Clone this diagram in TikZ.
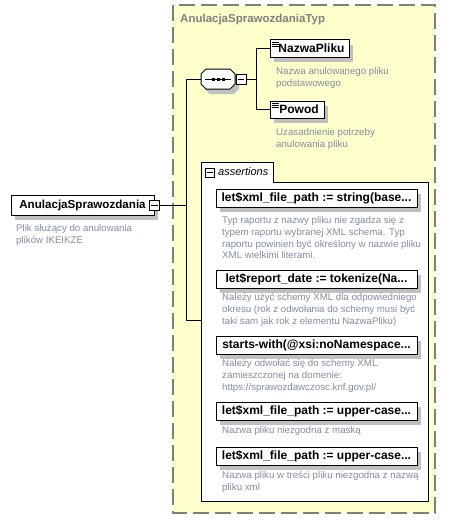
\documentclass[tikz,border=0pt]{standalone}
\usepackage{fontspec}
\setmainfont{Liberation Sans}
\usetikzlibrary{shadows}
\definecolor{outerfill}{RGB}{255,255,204}
\definecolor{outerline}{RGB}{128,128,118}
\definecolor{titlegray}{RGB}{128,128,128}
\definecolor{descgray}{RGB}{130,142,162}
\definecolor{shadowgray}{RGB}{192,192,192}
\begin{document}
\begin{tikzpicture}[x=1pt,y=-1pt,
  elbox/.style={draw=black, line width=1pt, fill=white, inner sep=0pt,
    font=\fontsize{12}{14}\selectfont\bfseries,
    general shadow={fill=shadowgray, shadow xshift=4pt, shadow yshift=-5pt}},
  pmbox/.style={draw=black, fill=white, minimum size=10pt, inner sep=0pt, line width=0.8pt},
  desc/.style={anchor=north west, inner sep=0pt, align=left, text=descgray,
    font=\fontsize{9.7}{11.6}\selectfont},
  conn/.style={draw=black, line width=1pt},
  icon/.style={draw=black, line width=0.7pt}
]
\useasboundingbox (0,0) rectangle (453,531);
\fill[white] (0,0) rectangle (453,531);

% outer complex type box
\filldraw[fill=outerfill, draw=outerline, line width=1.2pt, dash pattern=on 16pt off 6pt]
  (173,5) rectangle (435,513);
\node[anchor=west, inner sep=0pt, text=titlegray, font=\fontsize{11.5}{13}\selectfont\bfseries]
  (title) at (180,20) {AnulacjaSprawozdaniaTyp};

% root element
\node[elbox, minimum width=143pt, minimum height=20pt, font=\fontsize{11.6}{14}\selectfont\bfseries]
  (root) at (82.5,205) {AnulacjaSprawozdania};
\node[pmbox] (rm) at (154.5,205) {};
\draw ([xshift=2pt]rm.west) -- ([xshift=-2pt]rm.east);
\node[desc] (rootd) at (16,224.6) {Plik służący do anulowania\\plików IKEIKZE};

% spine
\coordinate (sp1) at (186,79);
\coordinate (sp2) at (186,320);

% sequence compositor
\node[minimum width=34pt, minimum height=20pt, inner sep=0pt] (seq) at (218,79) {};
\fill[shadowgray, shift={(4,5)}]
  (201,74) -- (206,69) -- (230,69) -- (235,74) -- (235,84) -- (230,89) -- (206,89) -- (201,84) -- cycle;
\filldraw[fill=white, draw=black, line width=1pt]
  (201,74) -- (206,69) -- (230,69) -- (235,74) -- (235,84) -- (230,89) -- (206,89) -- (201,84) -- cycle;
\draw[line width=0.8pt] (205,79) -- (231,79);
\fill (211.5,77.5) rectangle +(3,3);
\fill (216.5,77.5) rectangle +(3,3);
\fill (221.5,77.5) rectangle +(3,3);
\node[pmbox] (sm) at (241,79) {};
\draw ([xshift=2pt]sm.west) -- ([xshift=-2pt]sm.east);
\coordinate (br) at (256,79);

% child elements
\node[elbox, minimum width=79pt, minimum height=17.5pt] (np) at (309.5,48.5) {\hspace*{4pt}NazwaPliku};
\draw[icon] (272,42) -- (279,42); \draw[icon] (272,44) -- (279,44); \draw[icon] (272,46) -- (279,46);
\node[desc] (npd) at (276,67.6) {Nazwa anulowanego pliku\\podstawowego};

\node[elbox, minimum width=54pt, minimum height=17pt] (pw) at (297,109.5) {\hspace*{4pt}Powod};
\draw[icon] (272,103) -- (279,103); \draw[icon] (272,105) -- (279,105); \draw[icon] (272,107) -- (279,107);
\node[desc] (pwd) at (276,128.6) {Uzasadnienie potrzeby\\anulowania pliku};

% assertions group
\filldraw[fill=white, draw=black, line width=1pt]
  (201,162) -- (273,162) -- (273,182) -- (428,182) -- (428,501) -- (201,501) -- cycle;
\node[minimum width=227pt, minimum height=339pt, inner sep=0pt] (asrt) at (314.5,331.5) {};
\node[pmbox, minimum size=9pt] (am) at (210,172.5) {};
\draw ([xshift=1.8pt]am.west) -- ([xshift=-1.8pt]am.east);
\node[anchor=west, inner sep=0pt, font=\fontsize{11}{13}\selectfont\itshape] (at) at (218,172) {assertions};

\node[elbox, minimum width=201pt, minimum height=18pt] (a1) at (316.5,198) {let\$xml\_file\_path := string(base...};
\node[desc] (a1d) at (222,216.6) {Typ raportu z nazwy pliku nie zgadza się z\\typem raportu wybranej XML schema. Typ\\raportu powinien być określony w nazwie pliku\\XML wielkimi literami.};

\node[elbox, minimum width=201pt, minimum height=18pt] (a2) at (316.5,279) {let\$report\_date := tokenize(Na...};
\node[desc] (a2d) at (222,293.6) {Należy użyć schemy XML dla odpowiedniego\\okresu (rok z odwołania do schemy musi być\\taki sam jak rok z elementu NazwaPliku)};

\node[elbox, minimum width=201pt, minimum height=18pt] (a3) at (316.5,345) {starts-with(@xsi:noNamespace...};
\node[desc] (a3d) at (222,359.6) {Należy odwołać się do schemy XML\\zamieszczonej na domenie:\\https://sprawozdawczosc.knf.gov.pl/};

\node[elbox, minimum width=201pt, minimum height=18pt] (a4) at (316.5,411) {let\$xml\_file\_path := upper-case...};
\node[desc] (a4d) at (222,426.6) {Nazwa pliku niezgodna z maską};

\node[elbox, minimum width=201pt, minimum height=18pt] (a5) at (316.5,456) {let\$xml\_file\_path := upper-case...};
\node[desc] (a5d) at (222,471.6) {Nazwa pliku w treści pliku niezgodna z nazwą\\pliku xml};

% connectors
\draw[conn] (rm.east) -- (rm.east -| sp1);
\draw[conn] (seq.west) -- (sp1) -- (sp2) -- (sp2 -| asrt.west);
\draw[conn] (sm.east) -- (br);
\draw[conn] (br |- np.west) -- (br |- pw.west);
\draw[conn] (br |- np.west) -- (np.west);
\draw[conn] (br |- pw.west) -- (pw.west);
\end{tikzpicture}
\end{document}
